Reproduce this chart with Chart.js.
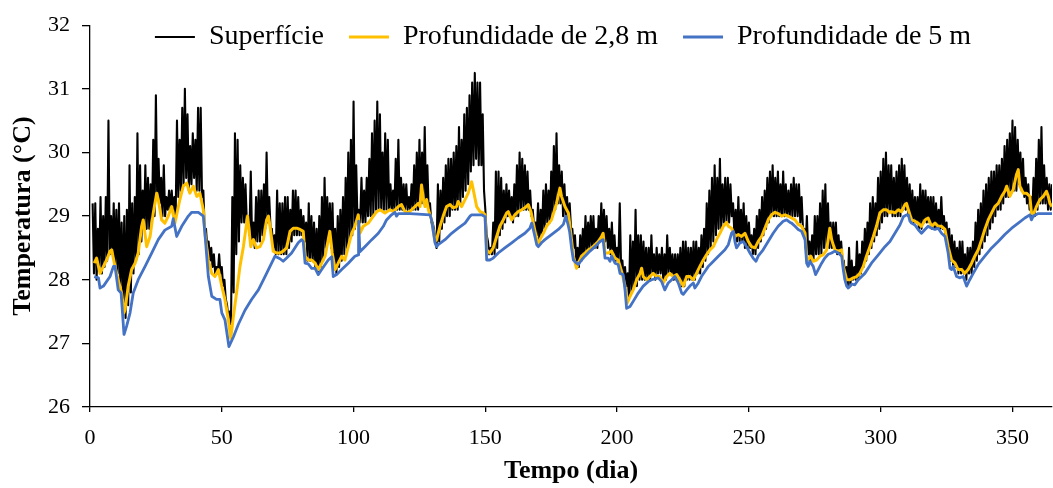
<!DOCTYPE html>
<html>
<head>
<meta charset="utf-8">
<script src="https://cdn.jsdelivr.net/npm/chart.js@4.4.0/dist/chart.umd.min.js"></script>
<style>
html, body { margin: 0; padding: 0; background: #ffffff; }
#trendChart { display: block; }
</style>
</head>
<body>
<canvas id="trendChart" width="1053" height="488"></canvas>
<script>

// series names (legend)
const seriesNames = ["Superfície", "Profundidade de 2,8 m", "Profundidade de 5 m"];

// surface: daily maximum and minimum, day 1 .. 365
const surfaceHigh = [
29.2,29.2,28.8,29.3,29.0,29.3,30.5,29.0,29.2,29.1,
29.2,28.9,29.0,29.1,29.8,29.2,29.3,30.3,29.8,29.4,
29.8,29.6,29.5,30.2,30.9,29.9,29.6,29.8,29.3,29.4,
29.4,29.3,30.5,30.2,30.7,31.0,30.6,30.1,30.3,30.2,
30.7,30.7,29.4,28.8,28.6,28.5,28.4,28.2,28.4,28.2,
28.0,27.6,27.5,29.3,30.3,30.2,29.8,29.6,29.5,29.0,
29.7,28.9,29.3,29.4,29.4,29.5,30.0,29.3,28.8,28.7,
29.4,29.2,29.2,29.3,29.3,29.1,29.4,29.4,29.3,29.1,
29.0,28.9,29.2,29.0,28.9,28.8,29.0,29.3,29.6,29.3,
29.2,29.2,28.8,29.0,29.1,29.3,29.6,30.0,30.2,30.8,
29.8,29.1,29.6,29.4,29.6,29.9,30.3,30.5,30.8,30.6,
30.0,30.3,30.2,29.5,29.4,29.9,30.2,29.6,29.5,29.5,
29.3,29.5,29.8,30.0,30.2,30.0,30.4,29.8,29.2,28.9,
28.6,29.5,29.4,29.6,29.8,29.9,29.9,30.0,30.1,30.4,
30.2,30.6,30.7,30.9,31.1,31.25,31.1,31.1,30.6,29.1,
28.6,28.5,28.9,29.7,29.7,29.6,29.4,29.5,29.4,29.3,
29.5,29.8,30.0,29.9,29.8,29.7,29.4,29.1,28.9,29.2,
29.1,29.4,29.5,29.4,29.7,30.1,30.3,29.8,29.7,29.5,
29.3,29.2,28.8,28.7,28.5,28.7,28.8,29.0,28.9,29.0,
29.0,28.8,29.0,29.2,29.1,29.0,28.8,28.9,28.7,28.5,
29.2,28.3,28.2,28.1,28.7,28.6,29.1,28.7,28.7,28.6,
28.5,28.5,28.7,28.4,28.5,28.4,28.5,28.4,28.7,28.5,
28.4,28.4,28.4,28.5,28.6,28.6,28.5,28.5,28.6,28.6,
28.5,28.7,28.8,29.2,29.4,29.6,29.8,29.6,29.9,29.5,
29.6,29.6,29.5,29.2,29.1,29.3,29.1,29.2,29.0,28.9,
28.7,28.8,29.0,29.1,29.3,29.4,29.6,29.7,29.8,29.6,
29.7,29.5,29.7,29.5,29.4,29.5,29.6,29.5,29.5,29.3,
28.8,29.0,28.6,28.7,29.0,29.0,29.2,29.4,29.5,29.2,
28.9,28.9,28.9,28.7,28.6,28.3,28.2,28.5,28.3,28.2,
28.6,28.4,28.6,28.8,28.9,29.2,29.3,29.2,29.6,29.7,
29.9,30.0,29.8,29.8,29.6,29.7,29.8,29.9,29.8,29.6,
29.5,29.4,29.3,29.3,29.5,29.4,29.4,29.3,29.3,29.3,
29.2,29.1,29.3,29.0,28.9,28.8,28.7,28.6,28.5,28.6,
28.6,28.4,28.5,28.5,28.6,28.9,29.1,29.2,29.4,29.5,
29.6,29.7,29.7,29.8,29.8,29.9,30.1,30.2,30.3,30.5,
30.4,30.2,30.0,29.9,29.6,29.5,29.3,29.6,29.9,30.2,
30.4,29.8,29.6,29.5,29.5
];

const surfaceLow = [
28.1,28.0,28.2,28.1,28.2,28.3,28.4,28.4,28.2,28.1,
27.9,27.7,27.4,27.6,27.8,28.1,28.3,28.4,28.6,28.8,
28.8,28.8,28.9,29.0,29.3,29.2,29.0,29.0,29.1,29.1,
29.1,29.0,29.3,29.4,29.5,29.6,29.4,29.5,29.6,29.4,
29.4,29.3,28.8,28.5,28.3,28.2,28.1,28.1,28.1,27.9,
27.7,27.4,27.3,27.8,28.4,28.6,28.9,28.9,28.9,28.7,
28.6,28.5,28.6,28.6,28.7,28.8,28.9,28.8,28.5,28.4,
28.4,28.4,28.4,28.4,28.5,28.6,28.7,28.7,28.7,28.7,
28.6,28.3,28.3,28.3,28.2,28.1,28.2,28.3,28.5,28.6,
28.5,28.3,28.1,28.2,28.3,28.4,28.5,28.6,28.7,28.8,
28.9,28.9,28.9,28.9,29.0,29.0,29.0,29.1,29.1,29.1,
29.1,29.1,29.1,29.1,29.1,29.1,29.1,29.1,29.1,29.1,
29.1,29.1,29.1,29.1,29.2,29.2,29.2,29.1,28.9,28.8,
28.5,28.6,28.8,28.9,29.0,29.0,29.1,29.1,29.1,29.2,
29.3,29.4,29.5,29.7,29.8,29.9,29.8,29.8,29.4,28.7,
28.4,28.4,28.4,28.5,28.7,28.8,28.9,29.0,29.0,28.9,
29.0,29.0,29.1,29.1,29.1,29.1,29.0,28.8,28.7,28.6,
28.7,28.8,28.9,28.9,29.0,29.1,29.2,29.2,29.0,29.0,
28.9,28.8,28.5,28.3,28.2,28.3,28.4,28.4,28.5,28.5,
28.5,28.5,28.6,28.6,28.6,28.5,28.4,28.4,28.3,28.3,
28.2,28.0,27.9,27.7,27.8,27.9,27.9,28.0,28.0,28.0,
28.0,28.0,28.1,28.0,28.1,28.1,28.0,28.0,28.1,28.1,
28.0,28.0,28.0,27.9,27.9,28.0,28.0,28.0,28.0,28.1,
28.1,28.2,28.3,28.4,28.5,28.6,28.7,28.8,28.8,28.9,
28.9,28.9,29.0,28.7,28.6,28.6,28.6,28.5,28.5,28.5,
28.4,28.4,28.5,28.6,28.7,28.8,28.9,29.0,29.0,29.0,
29.0,29.0,29.0,29.0,29.0,29.0,29.0,29.0,28.9,28.8,
28.5,28.4,28.3,28.3,28.4,28.4,28.4,28.5,28.5,28.5,
28.5,28.5,28.4,28.4,28.3,28.0,27.9,27.9,28.0,28.0,
28.0,28.1,28.2,28.3,28.4,28.5,28.6,28.7,28.8,28.9,
29.0,29.0,29.1,29.0,29.0,29.0,29.0,29.1,29.1,29.0,
28.9,28.9,28.9,28.8,28.8,28.9,28.9,28.9,28.8,28.8,
28.8,28.8,28.8,28.7,28.5,28.3,28.2,28.2,28.1,28.1,
28.1,28.0,28.1,28.1,28.2,28.3,28.4,28.5,28.6,28.7,
28.8,28.9,29.0,29.1,29.1,29.2,29.3,29.3,29.4,29.4,
29.4,29.5,29.4,29.3,29.2,29.1,29.0,29.0,29.1,29.2,
29.2,29.2,29.1,29.1,29.1
];

// 2,8 m depth: [day, temperature]
const midDepth = [
[1.6,28.26],[2.5,28.34],[3.8,28.1],[5.1,28.21],[6.3,28.31],[7.6,28.45],[8.2,28.47],[9.5,28.21],
[10.7,28.0],[12.0,27.79],[12.9,27.48],[13.3,27.53],[14.5,27.9],[15.8,28.16],[17.1,28.26],[18.3,28.42],
[19.6,28.84],[20.2,28.94],[21.5,28.52],[22.8,28.68],[24.0,29.05],[25.3,29.36],[25.9,29.26],[27.2,28.94],
[28.4,28.89],[29.7,29.0],[31.0,29.15],[32.2,28.89],[34.1,29.26],[35.4,29.47],[36.7,29.52],[37.9,29.36],
[39.2,29.47],[40.5,29.31],[41.7,29.36],[43.0,29.1],[43.6,28.73],[44.9,28.31],[46.2,28.1],[47.4,28.05],
[48.7,28.16],[50.0,27.9],[51.2,27.69],[52.5,27.37],[53.4,27.08],[54.4,27.42],[55.6,27.79],[56.9,28.21],
[58.2,28.52],[59.8,29.0],[61.0,28.52],[62.0,28.63],[63.2,28.5],[64.5,28.52],[65.8,28.63],[67.0,28.94],
[67.7,29.0],[68.3,28.84],[69.5,28.45],[70.8,28.42],[72.1,28.42],[73.3,28.45],[74.6,28.5],[75.9,28.76],
[77.1,28.81],[78.4,28.81],[79.7,28.79],[80.9,28.76],[81.6,28.37],[82.8,28.31],[84.1,28.31],[85.4,28.26],
[86.6,28.16],[87.9,28.26],[89.2,28.37],[91.0,28.76],[91.9,28.42],[93.0,28.16],[94.2,28.26],[95.5,28.37],
[96.7,28.31],[98.0,28.52],[99.3,28.73],[100.5,28.84],[101.8,29.02],[102.4,28.73],[103.7,28.84],[105.6,28.89],
[107.5,29.0],[108.8,29.07],[110.0,29.1],[111.9,29.05],[113.8,29.1],[115.1,29.07],[117.0,29.15],[118.2,29.18],
[119.5,29.07],[120.8,29.05],[122.0,29.1],[123.3,29.15],[124.6,29.2],[125.2,29.15],[125.8,29.49],[126.5,29.26],
[127.1,29.15],[127.7,29.26],[128.4,29.1],[129.6,28.94],[130.9,28.6],[131.5,28.63],[132.8,28.84],[134.0,29.0],
[135.3,29.15],[136.6,29.18],[137.8,29.13],[139.1,29.15],[139.7,29.23],[141.0,29.15],[142.3,29.26],[143.5,29.36],
[144.8,29.54],[145.4,29.42],[146.7,29.15],[148.0,29.07],[149.2,29.05],[149.9,29.02],[150.5,28.47],[151.7,28.42],
[153.0,28.5],[154.3,28.68],[155.5,28.84],[156.8,28.94],[158.1,29.05],[158.7,29.07],[160.0,28.94],[161.2,29.02],
[162.5,29.07],[163.8,29.1],[165.0,29.13],[166.3,29.18],[167.3,29.07],[168.2,28.89],[169.5,28.63],[170.1,28.55],
[170.7,28.63],[172.0,28.73],[173.2,28.84],[175.1,28.94],[177.0,29.2],[178.3,29.44],[178.9,29.31],[180.2,29.15],
[181.5,29.05],[182.1,28.84],[183.4,28.37],[184.6,28.18],[185.3,28.26],[186.5,28.37],[187.8,28.42],[189.1,28.47],
[190.3,28.5],[191.6,28.55],[192.8,28.6],[194.1,28.68],[194.7,28.73],[195.4,28.42],[196.6,28.42],[197.9,28.45],
[199.2,28.34],[200.4,28.31],[201.7,28.13],[203.0,27.9],[203.8,27.63],[204.9,27.74],[206.1,27.84],[207.4,28.0],
[208.7,28.1],[209.3,28.18],[209.9,28.05],[211.2,28.0],[212.4,28.05],[213.7,28.1],[215.0,28.05],[216.2,28.05],
[217.5,27.95],[218.8,28.05],[220.0,28.1],[221.3,28.05],[222.6,28.08],[223.8,28.0],[225.1,27.9],[226.4,28.05],
[227.6,28.05],[228.9,28.0],[230.1,28.1],[231.4,28.21],[232.7,28.31],[233.9,28.39],[235.2,28.47],[236.5,28.52],
[237.7,28.63],[239.0,28.73],[240.3,28.84],[241.5,28.9],[242.2,28.84],[243.4,28.81],[244.7,28.68],[246.0,28.71],
[247.2,28.68],[248.5,28.73],[249.8,28.6],[251.0,28.52],[252.3,28.5],[253.5,28.6],[254.8,28.68],[256.1,28.81],
[257.3,28.94],[258.6,29.02],[259.9,29.06],[261.1,29.04],[262.4,29.0],[263.7,29.02],[264.9,29.0],[266.2,28.97],
[267.5,28.94],[268.7,28.87],[270.0,28.84],[271.3,28.73],[271.9,28.37],[272.5,28.31],[273.5,28.37],[274.4,28.29],
[275.7,28.31],[277.0,28.37],[278.2,28.39],[279.5,28.47],[280.7,28.81],[281.4,28.63],[282.6,28.47],[283.9,28.45],
[285.2,28.47],[285.8,28.21],[287.1,28.0],[288.3,28.0],[289.6,28.03],[290.9,28.05],[292.1,28.1],[293.4,28.21],
[294.6,28.37],[295.9,28.52],[297.2,28.68],[298.4,28.84],[299.7,29.05],[301.0,29.1],[302.2,29.1],[303.5,29.05],
[304.1,29.07],[305.4,29.05],[306.7,29.1],[307.9,29.07],[309.2,29.18],[309.8,29.2],[310.5,29.1],[311.7,28.94],
[313.0,28.92],[314.2,28.89],[315.5,28.84],[316.8,28.94],[318.0,28.97],[319.3,28.84],[320.6,28.89],[321.8,28.84],
[323.1,28.84],[324.4,28.79],[325.6,28.52],[326.9,28.31],[328.2,28.26],[329.4,28.16],[330.7,28.16],[331.9,28.1],
[333.2,28.16],[334.5,28.26],[335.7,28.37],[337.0,28.47],[338.3,28.63],[339.5,28.79],[340.8,28.94],[342.1,29.05],
[343.3,29.15],[344.6,29.2],[345.9,29.31],[347.1,29.39],[347.8,29.47],[349.0,29.31],[350.3,29.42],[351.5,29.65],
[352.2,29.73],[352.8,29.47],[354.1,29.36],[355.3,29.36],[356.6,29.31],[357.2,29.05],[357.9,29.02],[359.1,29.15],
[360.4,29.26],[361.7,29.31],[362.9,29.39],[363.6,29.31],[364.2,29.2],[365.0,29.15]
];

// 5 m depth: [day, temperature]
const deepDepth = [
[1.6,28.05],[3.2,28.03],[3.8,27.87],[5.1,27.9],[7.6,28.05],[8.9,28.21],[9.5,28.21],[10.7,27.84],
[11.8,27.79],[12.9,27.14],[13.9,27.27],[15.2,27.48],[16.4,27.79],[18.3,28.0],[20.9,28.21],[23.4,28.42],
[25.9,28.63],[28.4,28.78],[31.0,28.84],[31.6,28.96],[32.9,28.68],[34.8,28.84],[37.3,29.0],[38.6,29.06],
[41.1,29.06],[43.0,29.0],[43.6,28.73],[44.9,28.05],[46.2,27.74],[48.0,27.69],[49.3,27.69],[50.0,27.48],
[51.2,27.37],[52.7,26.95],[54.4,27.1],[56.3,27.3],[58.8,27.52],[61.3,27.69],[63.9,27.84],[66.4,28.05],
[68.3,28.21],[70.2,28.37],[72.1,28.33],[73.3,28.29],[74.6,28.34],[76.5,28.42],[79.0,28.58],[80.3,28.63],
[80.9,28.6],[81.6,28.26],[82.8,28.25],[84.1,28.18],[85.4,28.18],[86.6,28.08],[87.9,28.16],[90.4,28.31],
[91.7,28.36],[92.3,28.05],[93.6,28.08],[95.5,28.16],[98.0,28.26],[100.5,28.37],[101.8,28.39],[101.9,28.92],
[102.4,28.44],[104.3,28.52],[106.9,28.63],[109.4,28.73],[111.3,28.84],[112.5,28.94],[114.4,29.02],[115.7,29.06],
[116.3,29.0],[117.0,29.04],[121.4,29.04],[129.0,29.02],[129.6,28.94],[130.9,28.58],[131.5,28.52],[132.1,28.55],
[134.7,28.63],[137.2,28.73],[139.7,28.81],[142.3,28.89],[144.2,29.0],[144.8,29.02],[148.6,29.02],[149.9,28.99],
[150.5,28.31],[151.7,28.31],[153.0,28.34],[154.9,28.42],[157.4,28.5],[160.0,28.58],[162.5,28.66],[165.0,28.73],
[166.9,28.81],[167.6,28.89],[168.2,28.79],[169.5,28.55],[170.1,28.52],[171.3,28.58],[172.6,28.63],[175.1,28.71],
[177.7,28.79],[179.6,28.87],[180.5,29.0],[181.3,28.88],[182.0,28.75],[182.7,28.5],[183.4,28.31],[184.6,28.26],
[185.3,28.24],[186.5,28.31],[187.8,28.37],[189.7,28.45],[191.6,28.52],[193.5,28.6],[194.7,28.63],[195.4,28.34],
[196.6,28.34],[197.3,28.29],[197.9,28.37],[199.2,28.26],[200.4,28.24],[201.1,28.1],[202.3,28.08],[203.0,27.84],
[203.6,27.55],[204.9,27.58],[206.1,27.66],[208.0,27.79],[209.9,27.9],[211.8,27.97],[213.1,28.0],[215.6,28.03],
[216.9,27.97],[218.1,27.84],[219.4,27.95],[220.7,28.0],[221.9,28.05],[223.2,27.95],[224.5,27.79],[225.1,27.77],
[226.4,27.84],[227.6,27.9],[228.9,27.95],[229.5,27.87],[230.8,27.95],[232.0,28.05],[233.3,28.13],[234.6,28.21],
[235.8,28.26],[238.4,28.37],[240.9,28.47],[242.2,28.55],[243.4,28.73],[244.1,28.76],[244.7,28.6],[245.3,28.5],
[246.6,28.58],[247.9,28.6],[249.1,28.52],[250.4,28.42],[251.6,28.34],[252.7,28.29],[253.5,28.37],[255.4,28.47],
[257.3,28.6],[259.2,28.73],[261.1,28.84],[263.0,28.92],[264.3,28.94],[265.6,28.9],[266.2,28.89],[267.5,28.84],
[268.7,28.79],[270.0,28.76],[271.3,28.63],[271.9,28.26],[272.5,28.21],[273.1,28.29],[274.4,28.21],[275.3,28.08],
[276.3,28.16],[277.6,28.26],[278.8,28.34],[280.1,28.4],[281.4,28.42],[282.6,28.45],[283.9,28.42],[285.2,28.37],
[285.8,28.16],[286.4,28.0],[287.1,27.9],[287.7,27.87],[289.0,27.93],[290.2,27.92],[291.5,28.0],[294.0,28.1],
[296.5,28.26],[299.1,28.39],[301.6,28.52],[303.5,28.6],[305.4,28.73],[307.3,28.86],[308.6,28.99],[309.8,29.02],
[310.5,29.02],[311.1,28.92],[311.7,28.89],[313.0,28.86],[314.2,28.79],[315.5,28.73],[316.8,28.79],[318.0,28.84],
[319.3,28.81],[320.6,28.79],[321.8,28.81],[323.1,28.73],[324.4,28.68],[325.6,28.42],[326.3,28.18],[326.9,28.16],
[327.5,28.21],[328.8,28.05],[330.1,28.03],[331.3,28.05],[332.6,27.9],[333.8,28.0],[335.1,28.1],[337.0,28.24],
[339.5,28.37],[342.1,28.5],[344.6,28.6],[347.1,28.71],[349.7,28.81],[352.2,28.89],[354.7,28.97],[356.6,29.02],
[357.2,28.94],[357.9,29.0],[359.8,29.04],[365.0,29.04]
];

// axis ranges
const dayMin = 0, dayMax = 365, dayStep = 50;
const tempMin = 26, tempMax = 32, tempStep = 1;

function surfacePoints(){
    let pts = [];
    surfaceHigh.forEach((v, i) => {
        pts.push({x: i + 1, y: v});
        pts.push({x: i + 1.5, y: surfaceLow[i]});
    });
    return pts;
}

function pairPoints(list){
    return list.map(p => ({x: p[0], y: p[1]}));
}

const fontFamily = "'Liberation Serif', 'Times New Roman', serif";
Chart.defaults.font.family = fontFamily;
Chart.defaults.color = "#000000";

// legend sits inside the top of the plot, like the original:
// it only reserves the 25px above the 32 tick, then is moved into place
const plotTop = 25;
const legendInPlot = {
    id: "legendInPlot",
    beforeLayout(chart){
        const lg = chart.legend;
        if(lg && !lg.fitWrapped){
            const fit = lg.fit;
            lg.fit = function(){
                fit.call(this);
                this.height = plotTop;
            };
            lg.fitWrapped = true;
        }
    },
    afterLayout(chart){
        const lg = chart.legend;
        if(!lg) return;
        lg.top = -2;
        lg.bottom = 70;
        lg.left -= 8;
        lg.right -= 8;
    }
};

const ctx = document.getElementById("trendChart");

new Chart(ctx, {
    type: "line",
    data: {
        datasets: [
            {
                label: seriesNames[0],
                data: surfacePoints(),
                borderColor: "#000000",
                backgroundColor: "#000000",
                borderWidth: 2.1,
                borderJoinStyle: "round",
                order: 3
            },
            {
                label: seriesNames[1],
                data: pairPoints(midDepth),
                borderColor: "#FFC000",
                backgroundColor: "#FFC000",
                borderWidth: 3,
                borderJoinStyle: "round",
                order: 2
            },
            {
                label: seriesNames[2],
                data: pairPoints(deepDepth),
                borderColor: "#4472C4",
                backgroundColor: "#4472C4",
                borderWidth: 2.8,
                borderJoinStyle: "round",
                order: 1
            }
        ]
    },
    options: {
        responsive: false,
        animation: false,
        devicePixelRatio: 1,
        layout: { padding: { top: 0, right: 1, left: 0, bottom: 0 } },
        elements: { point: { radius: 0 }, line: { tension: 0 } },
        plugins: {
            tooltip: { enabled: false },
            legend: {
                position: "top",
                fullSize: false,
                align: "center",
                labels: {
                    usePointStyle: true,
                    pointStyle: "line",
                    pointStyleWidth: 40,
                    padding: 25,
                    color: "#000000",
                    font: { size: 28 },
                    sort: (a, b) => a.datasetIndex - b.datasetIndex
                }
            }
        },
        scales: {
            x: {
                type: "linear",
                min: dayMin,
                max: dayMax,
                afterFit: (scale) => { scale.height = 81; },
                border: { display: true, color: "#000000", width: 1.3 },
                grid: { drawOnChartArea: false, drawTicks: true, tickLength: 5, color: "#000000", lineWidth: 1.3 },
                ticks: { stepSize: dayStep, includeBounds: false, padding: 13, maxRotation: 0, color: "#000000", font: { size: 22 } },
                title: { display: true, text: "Tempo (dia)", color: "#000000", font: { size: 26, weight: "bold" }, padding: { top: 0, bottom: 1 } }
            },
            y: {
                min: tempMin,
                max: tempMax,
                afterFit: (scale) => { scale.width = 90; },
                border: { display: true, color: "#000000", width: 1.3 },
                grid: { drawOnChartArea: false, drawTicks: true, tickLength: 8, color: "#000000", lineWidth: 1.3 },
                ticks: { stepSize: tempStep, padding: 12, color: "#000000", font: { size: 22 } },
                title: { display: true, text: "Temperatura (°C)", color: "#000000", font: { size: 26, weight: "bold" }, padding: { top: 8, bottom: 0 } }
            }
        }
    },
    plugins: [legendInPlot]
});

</script>
</body>
</html>
